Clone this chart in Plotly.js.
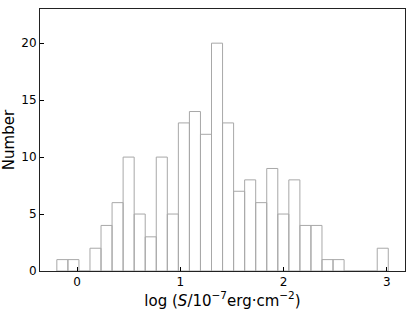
<!DOCTYPE html>
<html>
<head>
<meta charset="utf-8">
<script src="https://cdn.plot.ly/plotly-3.0.1.min.js"></script>
<style>html,body{margin:0;padding:0;background:#fff;}#chart{width:415px;height:311px;}</style>
</head>
<body>
<div id="chart"></div>
<script>
// Bin centers of log(S/1e-7 erg cm^-2) and counts per bin
const binCenters = [-0.1435, -0.0365, 0.0705, 0.1775, 0.2845, 0.3915, 0.4985, 0.6055, 0.7125, 0.8195,
                    0.9265, 1.0335, 1.1405, 1.2475, 1.3545, 1.4615, 1.5685, 1.6755, 1.7825, 1.8895,
                    1.9965, 2.1035, 2.2105, 2.3175, 2.4245, 2.5315, 2.6385, 2.7455, 2.8525, 2.9595];
const counts = [1, 1, 0, 2, 4, 6, 10, 5, 3, 10,
                5, 13, 14, 12, 20, 13, 7, 8, 6, 9,
                5, 8, 4, 4, 1, 1, 0, 0, 0, 2];
const binWidth = 0.107;
const xTicks = [0, 1, 2, 3];
const yTicks = [0, 5, 10, 15, 20];

const font = 'DejaVu Sans, sans-serif';
const trace = {
  type: 'bar',
  x: binCenters,
  y: counts,
  width: binWidth,
  marker: {color: 'rgba(255,255,255,0)', line: {color: '#a8a8a8', width: 1}},
  hoverinfo: 'x+y'
};
const layout = {
  width: 415, height: 311,
  margin: {l: 40, r: 10, t: 9, b: 40},
  paper_bgcolor: '#fff', plot_bgcolor: '#fff',
  showlegend: false,
  font: {family: font, color: '#000', size: 12},
  xaxis: {
    range: [-0.36, 3.175],
    tickvals: xTicks, ticktext: xTicks.map(String),
    ticks: 'inside', ticklen: 4, tickwidth: 1, tickcolor: '#000',
    showline: true, linecolor: '#222', linewidth: 1, mirror: true,
    showgrid: false, zeroline: false,
    tickfont: {family: font, size: 12},
    title: {text: 'log (<i>S</i>/10<sup>−7</sup>erg·cm<sup>−2</sup>)', font: {family: font, size: 15}, standoff: 3}
  },
  yaxis: {
    range: [0, 23],
    tickvals: yTicks, ticktext: yTicks.map(String),
    ticks: 'inside', ticklen: 4, tickwidth: 1, tickcolor: '#000',
    showline: true, linecolor: '#222', linewidth: 1, mirror: true,
    showgrid: false, zeroline: false,
    tickfont: {family: font, size: 12},
    title: {text: 'Number', font: {family: font, size: 15}, standoff: 3}
  }
};
Plotly.newPlot('chart', [trace], layout, {displayModeBar: false, staticPlot: true});
</script>
</body>
</html>
